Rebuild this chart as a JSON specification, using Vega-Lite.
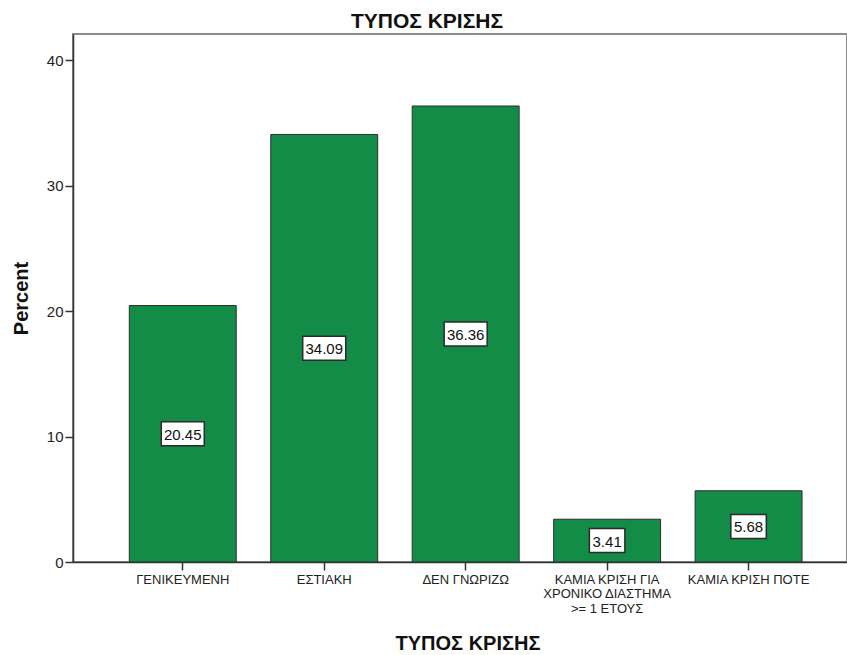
{
  "$schema": "https://vega.github.io/schema/vega-lite/v6.json",
  "width": 774,
  "height": 528,
  "autosize": {"type": "none"},
  "padding": {"left": 73, "top": 34, "right": 0, "bottom": 93},
  "background": "white",
  "title": {
    "text": "ΤΥΠΟΣ ΚΡΙΣΗΣ",
    "fontSize": 21,
    "fontWeight": "bold",
    "font": "Liberation Sans",
    "color": "#111111",
    "dx": -33,
    "offset": -15,
    "baseline": "alphabetic"
  },
  "config": {
    "font": "Liberation Sans",
    "view": {"stroke": "#8c8c8c", "strokeWidth": 2}
  },
  "data": {
    "values": [
      {"Type": "ΓΕΝΙΚΕΥΜΕΝΗ", "Percent": 20.45},
      {"Type": "ΕΣΤΙΑΚΗ", "Percent": 34.09},
      {"Type": "ΔΕΝ ΓΝΩΡΙΖΩ", "Percent": 36.36},
      {"Type": "ΚΑΜΙΑ ΚΡΙΣΗ ΓΙΑ ΧΡΟΝΙΚΟ ΔΙΑΣΤΗΜΑ >= 1 ΕΤΟΥΣ", "Percent": 3.41},
      {"Type": "ΚΑΜΙΑ ΚΡΙΣΗ ΠΟΤΕ", "Percent": 5.68}
    ]
  },
  "encoding": {
    "x": {
      "field": "Type",
      "type": "nominal",
      "sort": null,
      "scale": {"paddingInner": 0.244, "paddingOuter": 0.358, "align": 0.556},
      "axis": {
        "title": "ΤΥΠΟΣ ΚΡΙΣΗΣ",
        "titleFontSize": 20,
        "titleFontWeight": "bold",
        "titleColor": "#111111",
        "titleX": 394.5,
        "titleY": 81,
        "titleAlign": "center",
        "titleBaseline": "middle",
        "labelAngle": 0,
        "labelFontSize": 13,
        "labelColor": "#222222",
        "labelPadding": 3,
        "labelLineHeight": 14.5,
        "labelLimit": 0,
        "labelOverlap": false,
        "labelExpr": "datum.label == 'ΚΑΜΙΑ ΚΡΙΣΗ ΓΙΑ ΧΡΟΝΙΚΟ ΔΙΑΣΤΗΜΑ >= 1 ΕΤΟΥΣ' ? ['ΚΑΜΙΑ ΚΡΙΣΗ ΓΙΑ', 'ΧΡΟΝΙΚΟ ΔΙΑΣΤΗΜΑ', '>= 1 ΕΤΟΥΣ'] : datum.label",
        "domainColor": "#333333",
        "domainWidth": 1.5,
        "tickColor": "#333333",
        "tickWidth": 1.5,
        "tickSize": 8
      }
    }
  },
  "layer": [
    {
      "mark": {"type": "bar", "fill": "#128c47", "stroke": "#2f2f2f", "strokeWidth": 1},
      "encoding": {
        "y": {
          "field": "Percent",
          "type": "quantitative",
          "scale": {"domain": [0, 42.1], "nice": false},
          "axis": {
            "values": [0, 10, 20, 30, 40],
            "grid": false,
            "title": "Percent",
            "titleFontSize": 20,
            "titleFontWeight": "bold",
            "titleColor": "#111111",
            "titleAngle": -90,
            "titleX": -52,
            "titleY": 264,
            "titleAlign": "center",
            "titleBaseline": "middle",
            "labelFontSize": 15,
            "labelColor": "#222222",
            "labelPadding": 2,
            "domainColor": "#333333",
            "domainWidth": 1.5,
            "tickColor": "#333333",
            "tickWidth": 1.5,
            "tickSize": 8
          }
        }
      }
    },
    {
      "mark": {
        "type": "rect",
        "fill": "white",
        "stroke": "#2a2a2a",
        "strokeWidth": 1.5,
        "width": {"expr": "length(format(datum.Percent, '.2f')) * 7.5 + 5.5"},
        "height": 24
      },
      "encoding": {
        "y": {
          "field": "Percent",
          "type": "quantitative",
          "scale": {"domain": [0, 84.2], "nice": false},
          "axis": null
        }
      }
    },
    {
      "mark": {"type": "text", "fontSize": 15, "color": "#111111", "dy": 1},
      "encoding": {
        "y": {
          "field": "Percent",
          "type": "quantitative",
          "scale": {"domain": [0, 84.2], "nice": false},
          "axis": null
        },
        "text": {"field": "Percent", "type": "quantitative", "format": ".2f"}
      }
    }
  ],
  "resolve": {"scale": {"y": "independent"}}
}
